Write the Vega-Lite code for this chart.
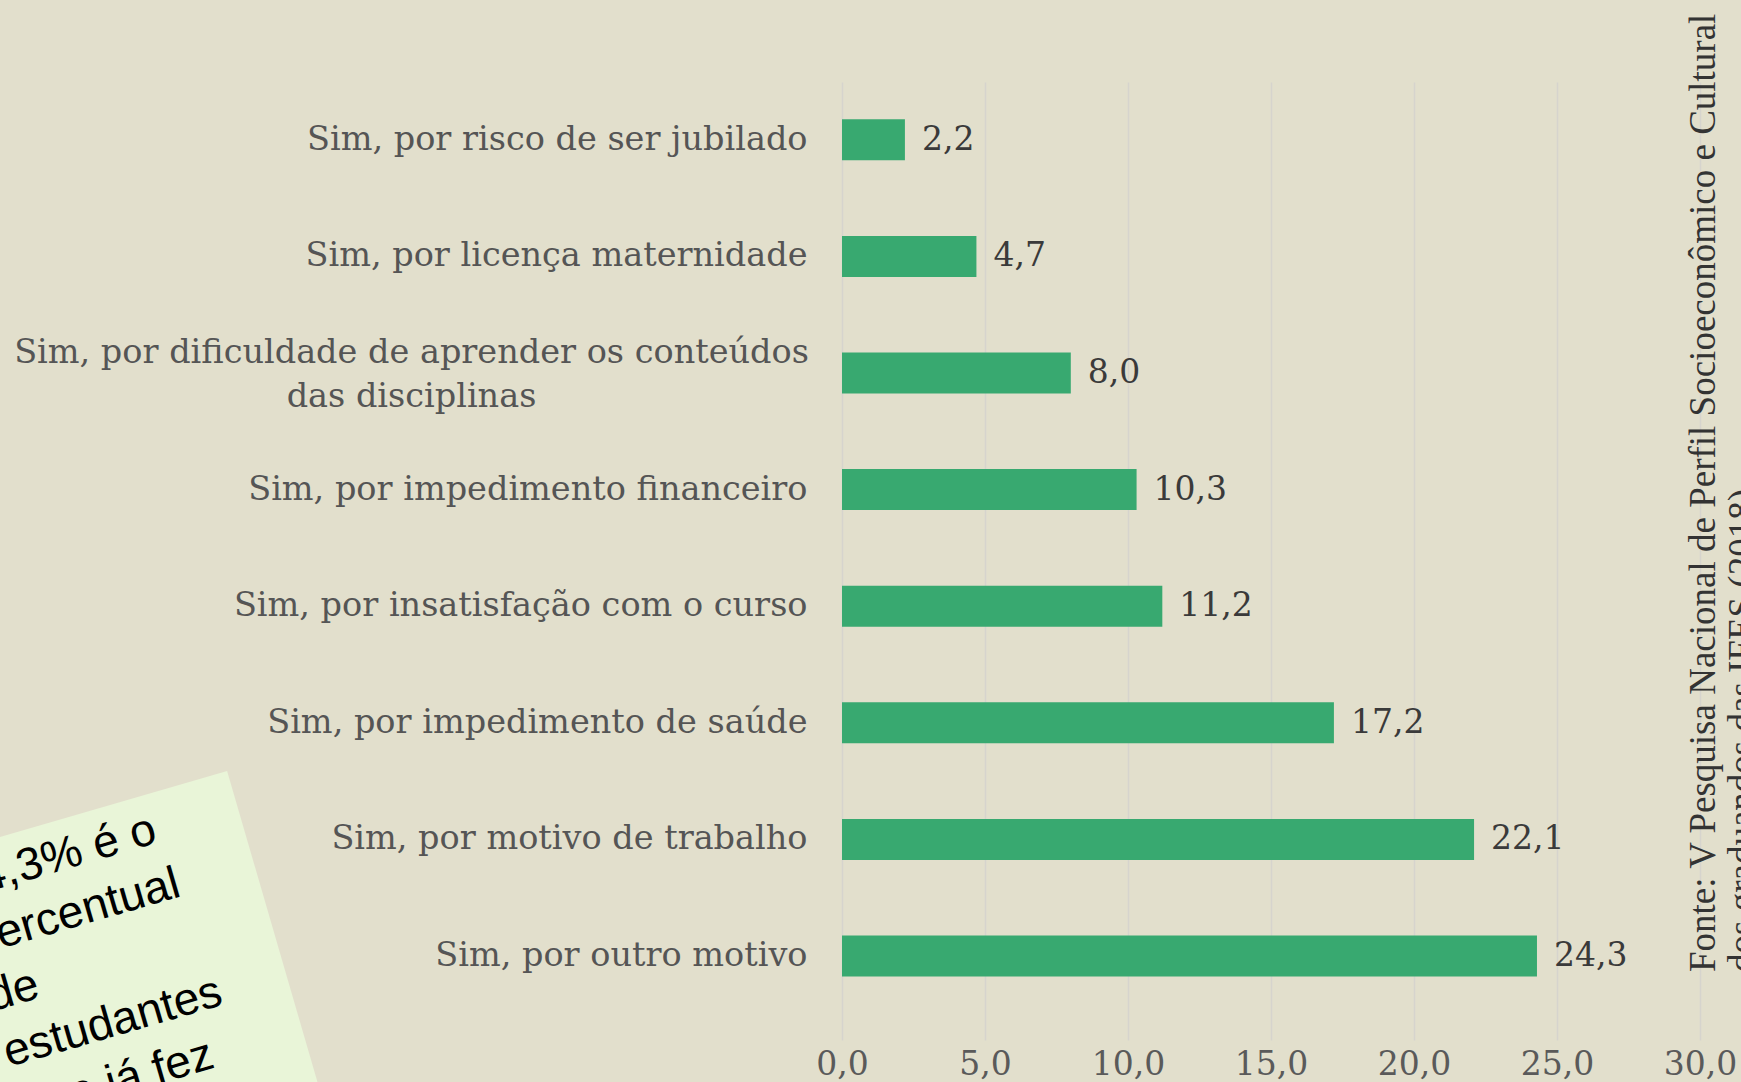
{
  "$schema": "https://vega.github.io/schema/vega-lite/v6.json",
  "autosize": {"type": "none"},
  "width": 858,
  "height": 958,
  "padding": {"left": 842, "top": 82, "right": 41, "bottom": 42},
  "background": "#e2dfcc",
  "config": {
    "view": {"stroke": null},
    "locale": {"number": {"decimal": ",", "thousands": ".", "grouping": [3], "currency": ["R$", ""]}}
  },
  "datasets": {
    "motivos": [
      {"categoria": "Sim, por risco de ser jubilado", "percentual": 2.2},
      {"categoria": "Sim, por licença maternidade", "percentual": 4.7},
      {"categoria": "Sim, por dificuldade de aprender os conteúdos das disciplinas", "percentual": 8.0},
      {"categoria": "Sim, por impedimento financeiro", "percentual": 10.3},
      {"categoria": "Sim, por insatisfação com o curso", "percentual": 11.2},
      {"categoria": "Sim, por impedimento de saúde", "percentual": 17.2},
      {"categoria": "Sim, por motivo de trabalho", "percentual": 22.1},
      {"categoria": "Sim, por outro motivo", "percentual": 24.3}
    ],
    "destaque": [
      {"texto": "24,3% é o\npercentual\nde\nestudantes\nque já fez"}
    ],
    "fonte": [
      {"texto": "Fonte: V Pesquisa Nacional de Perfil Socioeconômico e Cultural\ndos graduandos das IFES (2018)"}
    ]
  },
  "layer": [
    {
      "data": {"name": "motivos"},
      "mark": {"type": "bar", "color": "#38a970"},
      "encoding": {
        "y": {
          "field": "categoria",
          "type": "nominal",
          "scale": {
            "domain": [
              "Sim, por risco de ser jubilado",
              "Sim, por licença maternidade",
              "Sim, por dificuldade de aprender os conteúdos das disciplinas",
              "Sim, por impedimento financeiro",
              "Sim, por insatisfação com o curso",
              "Sim, por impedimento de saúde",
              "Sim, por motivo de trabalho",
              "Sim, por outro motivo"
            ],
            "paddingInner": 0.648,
            "paddingOuter": 0.432,
            "align": 0.37
          },
          "axis": {
            "title": null,
            "domain": false,
            "ticks": false,
            "tickSize": 0,
            "grid": false,
            "labelFont": "DejaVu Serif",
            "labelFontSize": 33.5,
            "labelColor": "#555555",
            "labelLimit": 2000,
            "labelLineHeight": 44,
            "labelBaseline": "middle",
            "labelAlign": {"condition": {"test": "datum.value == 'Sim, por dificuldade de aprender os conteúdos das disciplinas'", "value": "center"}, "value": "right"},
            "labelPadding": {"condition": {"test": "datum.value == 'Sim, por dificuldade de aprender os conteúdos das disciplinas'", "value": 431}, "value": 35},
            "labelOffset": {"condition": {"test": "datum.value == 'Sim, por dificuldade de aprender os conteúdos das disciplinas'", "value": -20}, "value": 0},
            "labelExpr": "datum.value == 'Sim, por dificuldade de aprender os conteúdos das disciplinas' ? ['Sim, por dificuldade de aprender os conteúdos', 'das disciplinas'] : datum.label"
          }
        },
        "x": {
          "field": "percentual",
          "type": "quantitative",
          "scale": {"domain": [0, 30], "nice": false},
          "axis": {
            "title": null,
            "values": [0, 5, 10, 15, 20, 25, 30],
            "format": ".1f",
            "domain": false,
            "ticks": false,
            "tickSize": 0,
            "grid": true,
            "gridColor": "#d6d4cd",
            "gridWidth": 1.5,
            "labelFont": "DejaVu Serif",
            "labelFontSize": 33,
            "labelColor": "#5a5a5a",
            "labelPadding": 8,
            "labelFlush": false,
            "labelOverlap": false
          }
        }
      }
    },
    {
      "data": {"name": "motivos"},
      "mark": {"type": "text", "align": "left", "baseline": "middle", "dx": 17, "font": "DejaVu Serif", "fontSize": 33, "color": "#3a3a3a"},
      "encoding": {
        "y": {"field": "categoria", "type": "nominal"},
        "x": {"field": "percentual", "type": "quantitative"},
        "text": {"field": "percentual", "type": "quantitative", "format": ".1f"}
      }
    },
    {
      "data": {"name": "destaque"},
      "mark": {"type": "point", "shape": "M0,0L0,1L-1,1L-1,0Z", "size": 1960000, "angle": -16.2, "filled": true, "opacity": 1, "color": "#e9f5d8", "strokeWidth": 0, "yOffset": -185},
      "encoding": {
        "x": {"datum": -21.5, "type": "quantitative"},
        "y": {"datum": "Sim, por outro motivo", "type": "nominal"}
      }
    },
    {
      "data": {"name": "destaque"},
      "mark": {"type": "text", "align": "left", "baseline": "alphabetic", "angle": -16.2, "font": "Liberation Sans", "fontSize": 46, "lineHeight": 58, "lineBreak": "\n", "color": "#000000", "yOffset": -56},
      "encoding": {
        "x": {"datum": -30.84, "type": "quantitative"},
        "y": {"datum": "Sim, por outro motivo", "type": "nominal"},
        "text": {"field": "texto", "type": "nominal"}
      }
    },
    {
      "data": {"name": "fonte"},
      "mark": {"type": "text", "align": "left", "baseline": "alphabetic", "angle": -90, "font": "Liberation Serif", "fontSize": 37, "lineHeight": 39, "lineBreak": "\n", "color": "#333333", "yOffset": 16},
      "encoding": {
        "x": {"datum": 30.52, "type": "quantitative"},
        "y": {"datum": "Sim, por outro motivo", "type": "nominal"},
        "text": {"field": "texto", "type": "nominal"}
      }
    }
  ]
}
